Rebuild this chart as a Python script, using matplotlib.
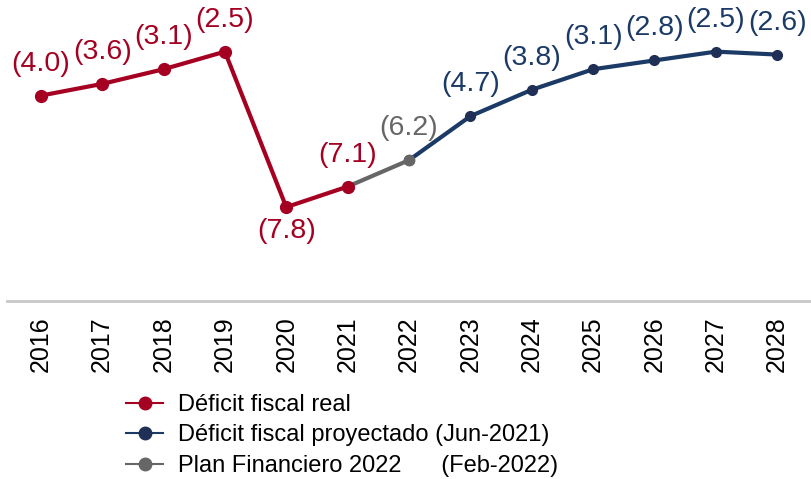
import matplotlib
matplotlib.use("Agg")
from matplotlib import pyplot as plt
from matplotlib.lines import Line2D

plt.rcParams['font.family'] = ['Liberation Sans', 'DejaVu Sans']

years = [str(y) for y in range(2016, 2029)]

# deficit values (% of GDP, negative)
real_years = years[0:6]
real_vals = [-4.0, -3.6, -3.1, -2.5, -7.8, -7.1]
plan_years = years[5:7]
plan_vals = [-7.1, -6.2]
proj_years = years[6:]
proj_vals = [-6.2, -4.7, -3.8, -3.1, -2.8, -2.5, -2.6]

RED = '#A50021'
BLUE = '#1B3A66'
BLUE_MK = '#1F2F55'
GRAY = '#666666'

fig = plt.figure(figsize=(8.11, 4.79), dpi=100)
ax = fig.add_axes([7 / 811, 178 / 479, 804 / 811, 301 / 479])

x_of = {y: i for i, y in enumerate(years)}


def draw(yrs, vals, color, mcolor, ms):
    xs = [x_of[y] for y in yrs]
    ax.plot(xs, vals, '-', color=color, lw=3, marker='o', ms=ms,
            markerfacecolor=mcolor, markeredgecolor=mcolor, zorder=3)


draw(proj_years, proj_vals, BLUE, BLUE_MK, 7)
draw(plan_years, plan_vals, GRAY, GRAY, 7.5)
draw(real_years, real_vals, RED, RED, 8.5)


def label(yrs, vals, color, skip=()):
    for y, v in zip(yrs, vals):
        if y in skip:
            continue
        below = v < -7.5
        ax.annotate(f"({abs(v):.1f})", (x_of[y], v),
                    xytext=(0, -17 if below else 23), textcoords='offset points',
                    ha='center', va='center', fontsize=20.5, color=color,
                    annotation_clip=False)


label(real_years, real_vals, RED)
label(plan_years, plan_vals, GRAY, skip=('2021',))
label(proj_years, proj_vals, BLUE, skip=('2022',))

ax.set_xlim(-0.55, 12.55)
ax.set_ylim(-11, -0.74)
ax.set_xticks(range(len(years)))
ax.set_xticklabels(years, rotation=90, fontsize=18)
ax.tick_params(axis='x', length=0, pad=11)
ax.set_yticks([])
for s in ['top', 'right', 'left']:
    ax.spines[s].set_visible(False)
ax.spines['bottom'].set_color('#C8C8C8')
ax.spines['bottom'].set_linewidth(2)

handles = [
    Line2D([], [], color=RED, lw=1.5, marker='o', ms=9),
    Line2D([], [], color=BLUE, lw=1.5, marker='o', ms=9, markerfacecolor=BLUE_MK, markeredgecolor=BLUE_MK),
    Line2D([], [], color=GRAY, lw=1.5, marker='o', ms=9),
]
names = ['Déficit fiscal real',
         'Déficit fiscal proyectado (Jun-2021)',
         'Plan Financiero 2022      (Feb-2022)']
fig.legend(handles, names, loc='upper left', bbox_to_anchor=(126 / 811, 1 - 394 / 479),
           frameon=False, fontsize=17, handlelength=1.57, handletextpad=0.64,
           labelspacing=0.36, borderpad=0, borderaxespad=0)

fig.savefig('out.png', dpi=100)
